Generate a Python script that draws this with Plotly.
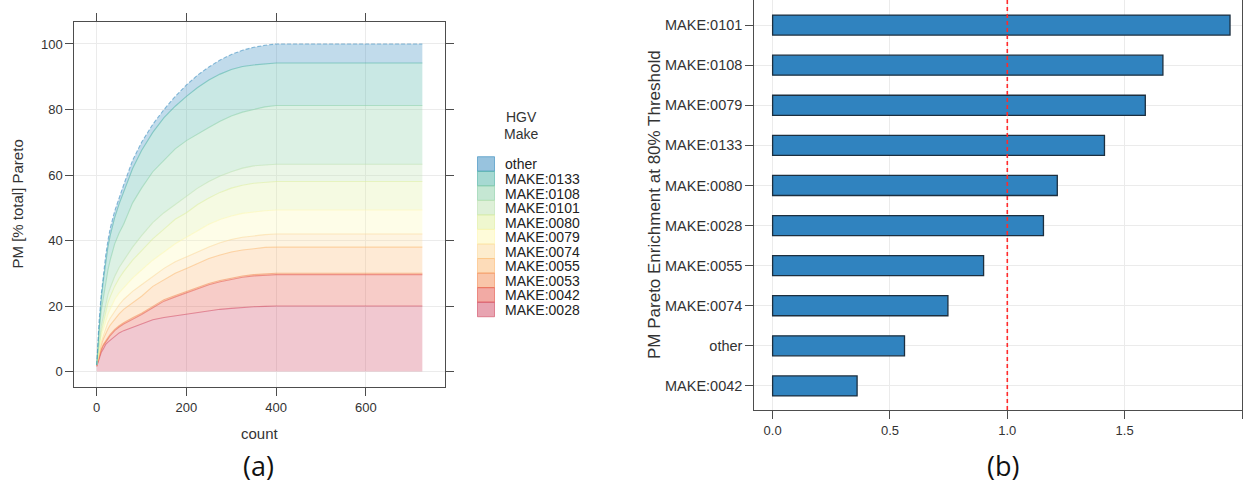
import plotly.graph_objects as go

# ---------------- data: panel (a) cumulative Pareto curves ----------------
counts = [0, 5, 10, 15, 20, 25, 30, 40, 50, 60, 80, 100, 125, 150, 175, 200, 225, 250, 275,
          300, 325, 350, 375, 400, 726]
makes = ["MAKE:0028", "MAKE:0042", "MAKE:0053", "MAKE:0055", "MAKE:0074", "MAKE:0079",
         "MAKE:0080", "MAKE:0101", "MAKE:0108", "MAKE:0133", "other"]
cum_0028 = [1.5, 4, 5.8, 7, 8.3, 9, 9.6, 10.5, 11.8, 12.5, 13.5, 14.6, 15.8, 16.5, 17, 17.5,
            18.2, 18.7, 19.0, 19.3, 19.6, 19.8, 19.9, 20, 20]
cum_0042 = [1.8, 4.5, 6.5, 8, 9.2, 10, 11, 12.5, 13.6, 14.5, 16, 17.4, 19.5, 21.5, 22.8, 24,
            25.4, 26.5, 27.4, 28.2, 28.8, 29.2, 29.5, 29.6, 29.6]
cum_0053 = [1.8, 4.7, 6.8, 8.3, 9.5, 10.4, 11.4, 12.9, 14.0, 14.9, 16.4, 17.8, 19.9, 21.9,
            23.2, 24.4, 25.8, 26.9, 27.8, 28.6, 29.2, 29.6, 29.9, 30.0, 30.0]
cum_0055 = [2, 5.5, 8, 10, 11.7, 13, 14.2, 16, 17.6, 19, 21, 23, 26, 28, 30, 31.5,
            33.1, 34.5, 35.6, 36.5, 37.1, 37.6, 37.9, 38, 38]
cum_0074 = [2, 6, 9, 11, 13.2, 15, 16.3, 18.5, 20.4, 22, 24.5, 26.5, 29, 31.5, 33.5, 35,
            36.6, 38, 39.3, 40.3, 41.0, 41.5, 41.8, 42, 42]
cum_0079 = [2, 7, 10.5, 13, 15.5, 17.5, 19, 22, 24, 25.5, 28.5, 31, 34, 36.5, 39, 41,
            43.1, 45, 46.4, 47.5, 48.3, 48.8, 49.1, 49.3, 49.3]
cum_0080 = [2, 8, 12, 15, 18.3, 21, 22.8, 26, 28.5, 30.5, 34, 37, 40.5, 43.5, 46.5, 48.5,
            51, 53, 54.7, 56, 56.9, 57.5, 57.8, 58, 58]
cum_0101 = [2, 9, 13.8, 17, 20.6, 23.5, 25.5, 29, 31.8, 34, 38, 41.5, 45.5, 48.5, 51, 53.5,
            56, 58, 59.7, 61, 62.1, 62.8, 63.1, 63.3, 63.3]
cum_0108 = [2, 12, 18.5, 23, 27.5, 31, 34, 39, 42.3, 45, 51.5, 56, 61, 64.5, 68, 70.5,
            72.6, 74.5, 76.4, 78, 79.2, 80, 80.8, 81.2, 81.2]
cum_0133 = [2, 14, 22, 28, 33.5, 38, 41.5, 47, 51.2, 55, 62, 67.5, 73, 77.5, 81, 84,
            86.7, 89, 90.8, 92.2, 93.1, 93.6, 94.0, 94.2, 94.2]
cum_other = [2, 15, 23.5, 30, 35.5, 40, 43.7, 49, 53.2, 57, 64.5, 70, 75.5, 80, 84, 87.5,
             90.5, 93, 95.1, 96.8, 98.1, 99, 99.6, 100, 100]
cum_series = [cum_0028, cum_0042, cum_0053, cum_0055, cum_0074, cum_0079,
              cum_0080, cum_0101, cum_0108, cum_0133, cum_other]

# ---------------- data: panel (b) enrichment ----------------
bar_cats = ["MAKE:0042", "other", "MAKE:0074", "MAKE:0055", "MAKE:0028",
            "MAKE:0080", "MAKE:0133", "MAKE:0079", "MAKE:0108", "MAKE:0101"]
bar_vals = [0.36, 0.562, 0.747, 0.899, 1.154, 1.213, 1.414, 1.588, 1.663, 1.949]
threshold = 1.0

# ---------------- styles ----------------
base_rgb = [(209, 73, 99), (229, 85, 73), (243, 139, 83), (251, 185, 115), (251, 217, 155),
            (253, 247, 179), (223, 239, 159), (189, 225, 177), (139, 207, 167),
            (77, 179, 165), (50, 136, 189)]


def rgba(c, a):
    return "rgba(%d,%d,%d,%.2f)" % (c[0], c[1], c[2], a)


W, H = 1243, 483
FONT = "Liberation Sans, Arial, sans-serif"
FRAME = "#4d4d4d"
GRID = "#ebebeb"


def px(x):
    return x / W


def py(y):
    return 1 - y / H


fig = go.Figure()

for i, (name, ys) in enumerate(zip(makes, cum_series)):
    fig.add_trace(go.Scatter(
        x=counts, y=ys, name=name, mode="lines",
        line=dict(color=rgba(base_rgb[i], 0.55), width=1.1,
                  dash="4px,2px" if name == "other" else "solid"),
        fill="tozeroy" if i == 0 else "tonexty",
        fillcolor=rgba(base_rgb[i], 0.30),
        showlegend=False, xaxis="x", yaxis="y", hoverinfo="x+y+name"))

fig.add_trace(go.Bar(
    x=bar_vals, y=bar_cats, orientation="h", width=0.5,
    marker=dict(color="#3083bf", line=dict(color="#1c2f3f", width=1.3)),
    showlegend=False, xaxis="x2", yaxis="y2"))

fig.add_shape(type="line", xref="x2", yref="y2 domain", x0=threshold, x1=threshold, y0=0, y1=1,
              line=dict(color="#ff2b2b", width=1.6, dash="4px,3px"))

axis_common = dict(showline=True, linecolor=FRAME, linewidth=1, ticks="outside",
                   ticklen=8, tickcolor=FRAME, tickwidth=1, showgrid=True,
                   gridcolor=GRID, gridwidth=1, zeroline=False,
                   tickfont=dict(family=FONT, size=13, color="#333333"))

fig.update_layout(
    width=W, height=H, margin=dict(l=0, r=0, t=0, b=0),
    paper_bgcolor="white", plot_bgcolor="white",
    font=dict(family=FONT, color="#333333"),
    xaxis=dict(domain=[px(74.3), px(445)], range=[-50, 776.5], tickvals=[0, 200, 400, 600],
               mirror="allticks", anchor="y", **axis_common),
    yaxis=dict(domain=[py(387.3), py(21.7)], range=[-4.8, 106.8], tickvals=[0, 20, 40, 60, 80, 100],
               mirror="allticks", anchor="x", **axis_common),
    xaxis2=dict(domain=[px(754.3), px(1242)], range=[-0.078, 2.0], tickvals=[0, 0.5, 1, 1.5, 2],
                ticktext=["0.0", "0.5", "1.0", "1.5", ""], mirror=True, anchor="y2", **axis_common),
    yaxis2=dict(domain=[py(410), 1], range=[-0.6, 9.625], type="category",
                categoryorder="array", categoryarray=bar_cats, mirror=True, anchor="x2",
                **{**axis_common, "tickfont": dict(family=FONT, size=14.5, color="#333333")}),
    bargap=0.5,
)


def label(text, x, y, size, angle=0, xanchor="center", family=FONT, color="#333333"):
    return dict(text=text, x=px(x), y=py(y), xref="paper", yref="paper", showarrow=False,
                xanchor=xanchor, yanchor="middle", textangle=angle,
                font=dict(family=family, size=size, color=color))


ann = [
    label("count", 259.7, 433, 15),
    label("PM [% total] Pareto", 17, 204.5, 15, angle=-90),
    label("PM Pareto Enrichment at 80% Threshold", 655, 205, 17, angle=-90),
    label("(a)", 258, 465, 27, family="Open Sans, sans-serif", color="#111111"),
    label("(b)", 1003, 465, 27, family="Open Sans, sans-serif", color="#111111"),
    label("HGV", 521, 117, 14),
    label("Make", 521, 134, 14),
]

# manual legend (top row = last series)
row_h = 14.55
top0 = 156.7
for j, idx in enumerate(range(len(makes) - 1, -1, -1)):
    y0 = top0 + j * row_h
    fig.add_shape(type="rect", xref="paper", yref="paper",
                  x0=px(477.5), x1=px(494.5), y0=py(y0 + row_h), y1=py(y0),
                  fillcolor=rgba(base_rgb[idx], 0.5), line=dict(color=rgba(base_rgb[idx], 0.6), width=1))
    ann.append(label(makes[idx], 503, y0 + row_h / 2 + 0.5, 14, xanchor="left", color="#222222"))

fig.update_layout(annotations=ann)
fig.write_html("out.html", config={"displayModeBar": False},
               post_script="document.body.style.margin='0';document.body.style.overflow='hidden';")
